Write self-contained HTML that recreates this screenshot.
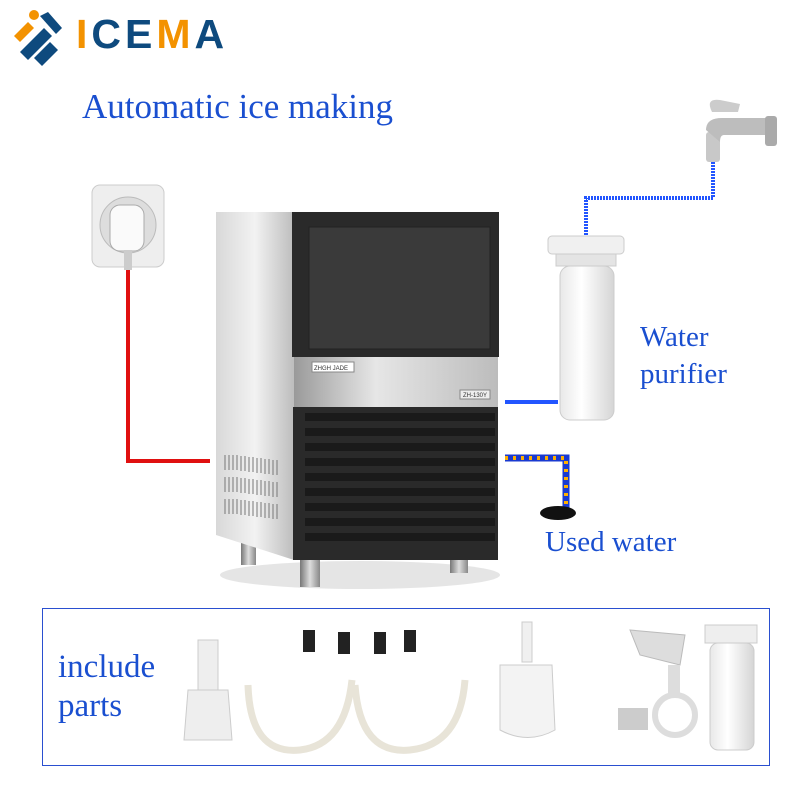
<!DOCTYPE html>
<html><head><meta charset="utf-8"><style>
body{margin:0;width:800px;height:800px;background:#fff;overflow:hidden}
svg{display:block}
text{font-family:"Liberation Serif",serif}
</style></head><body>
<svg width="800" height="800" viewBox="0 0 800 800">
<defs>
<linearGradient id="side" x1="0" x2="1"><stop offset="0" stop-color="#d8d8d8"/><stop offset=".5" stop-color="#f2f2f2"/><stop offset="1" stop-color="#bdbdbd"/></linearGradient>
<linearGradient id="band" x1="0" x2="1"><stop offset="0" stop-color="#9a9a9a"/><stop offset=".4" stop-color="#e6e6e6"/><stop offset="1" stop-color="#bcbcbc"/></linearGradient>
<linearGradient id="leg" x1="0" x2="1"><stop offset="0" stop-color="#777"/><stop offset=".5" stop-color="#ddd"/><stop offset="1" stop-color="#888"/></linearGradient>
<linearGradient id="wf" x1="0" x2="1"><stop offset="0" stop-color="#e8e8e8"/><stop offset=".4" stop-color="#fff"/><stop offset="1" stop-color="#d5d5d5"/></linearGradient>
</defs>
<!-- logo -->
<g>
<circle cx="34" cy="15" r="5" fill="#f39200"/>
<polygon points="14,36 28,22 34,28 20,42" fill="#f39200"/>
<polygon points="20,52 44,28 52,36 28,60" fill="#0e4a7e"/>
<polygon points="34,58 50,42 58,50 42,66" fill="#0e4a7e"/>
<polygon points="40,16 48,12 62,28 56,34" fill="#0e4a7e"/>
<text x="76" y="48" font-weight="bold" font-size="41" letter-spacing="4" style="font-family:'Liberation Sans',sans-serif"><tspan fill="#f39200">I</tspan><tspan fill="#0e4a7e">CE</tspan><tspan fill="#f39200">M</tspan><tspan fill="#0e4a7e">A</tspan></text>
</g>
<text x="82" y="118" font-size="35" fill="#1a4fd0">Automatic ice making</text>
<!-- plug -->
<rect x="92" y="185" width="72" height="82" rx="8" fill="#eee" stroke="#ccc"/>
<circle cx="128" cy="225" r="28" fill="#ddd" stroke="#bbb"/>
<rect x="110" y="205" width="34" height="46" rx="10" fill="#fafafa" stroke="#aaa"/>
<rect x="124" y="250" width="8" height="20" fill="#ccc"/>
<!-- red wire -->
<polyline points="128,270 128,461 210,461" fill="none" stroke="#e01010" stroke-width="4"/>
<!-- faucet -->
<rect x="706" y="132" width="14" height="30" rx="3" fill="#c8c8c8"/>
<path d="M706,130 Q706,118 722,118 L770,118 L770,135 L724,135 Q720,135 720,142 Z" fill="#bdbdbd"/>
<rect x="765" y="116" width="12" height="30" rx="3" fill="#aaa"/>
<path d="M712,112 Q705,98 720,100 L740,104 L738,112 Z" fill="#ccc"/>
<!-- blue pipes -->
<polyline points="713,162 713,198 586,198 586,235" fill="none" stroke="#2255ff" stroke-width="4" stroke-dasharray="2,1"/>
<polyline points="558,402 505,402" fill="none" stroke="#2255ff" stroke-width="4"/>
<!-- filter -->
<rect x="548" y="236" width="76" height="18" rx="4" fill="#f0f0f0" stroke="#ccc"/>
<rect x="556" y="254" width="60" height="12" fill="#e4e4e4" stroke="#ccc"/>
<rect x="560" y="266" width="54" height="154" rx="10" fill="url(#wf)" stroke="#ccc"/>
<text x="640" y="346" font-size="29" fill="#1a4fd0">Water</text>
<text x="640" y="383" font-size="29" fill="#1a4fd0">purifier</text>
<!-- used water -->
<polyline points="505,458 566,458 566,508" fill="none" stroke="#1a3ad0" stroke-width="7"/>
<polyline points="505,458 566,458 566,508" fill="none" stroke="#ffb000" stroke-width="4" stroke-dasharray="3,5"/>
<ellipse cx="558" cy="513" rx="18" ry="7" fill="#111"/>
<text x="545" y="551" font-size="29" fill="#1a4fd0">Used water</text>
<!-- machine -->
<ellipse cx="360" cy="575" rx="140" ry="14" fill="#ccc" opacity=".5"/>
<rect x="241" y="535" width="15" height="30" fill="url(#leg)"/>
<rect x="300" y="555" width="20" height="32" fill="url(#leg)"/>
<rect x="450" y="548" width="18" height="25" fill="url(#leg)"/>
<polygon points="216,212 294,212 294,560 216,535" fill="url(#side)"/>
<g stroke="#777" stroke-width="1">
<path d="M225,455 l0,15 M229,455 l0,15 M233,455 l0,15 M237,455 l0,15 M241,456 l0,15 M245,456 l0,15 M249,457 l0,15 M253,457 l0,15 M257,458 l0,15 M261,458 l0,15 M265,459 l0,15 M269,459 l0,15 M273,460 l0,15 M277,460 l0,15"/>
<path d="M225,477 l0,15 M229,477 l0,15 M233,477 l0,15 M237,477 l0,15 M241,478 l0,15 M245,478 l0,15 M249,479 l0,15 M253,479 l0,15 M257,480 l0,15 M261,480 l0,15 M265,481 l0,15 M269,481 l0,15 M273,482 l0,15 M277,482 l0,15"/>
<path d="M225,499 l0,15 M229,499 l0,15 M233,499 l0,15 M237,499 l0,15 M241,500 l0,15 M245,500 l0,15 M249,501 l0,15 M253,501 l0,15 M257,502 l0,15 M261,502 l0,15 M265,503 l0,15 M269,503 l0,15 M273,504 l0,15 M277,504 l0,15"/>
</g>
<rect x="292" y="212" width="207" height="145" fill="#2a2a2a"/>
<rect x="309" y="227" width="181" height="122" fill="#3a3a3a" stroke="#222"/>
<rect x="294" y="357" width="204" height="50" fill="url(#band)"/>
<rect x="312" y="362" width="42" height="10" fill="#fff" stroke="#888"/>
<text x="314" y="370" font-size="6" fill="#333" style="font-family:'Liberation Sans',sans-serif">ZHGH JADE</text>
<rect x="460" y="390" width="30" height="9" fill="#eee" stroke="#888"/>
<text x="463" y="397" font-size="6" fill="#333" style="font-family:'Liberation Sans',sans-serif">ZH-130Y</text>
<rect x="293" y="407" width="205" height="153" fill="#2a2a2a"/>
<g fill="#1a1a1a">
<rect x="305" y="413" width="190" height="8"/><rect x="305" y="428" width="190" height="8"/>
<rect x="305" y="443" width="190" height="8"/><rect x="305" y="458" width="190" height="8"/>
<rect x="305" y="473" width="190" height="8"/><rect x="305" y="488" width="190" height="8"/>
<rect x="305" y="503" width="190" height="8"/><rect x="305" y="518" width="190" height="8"/>
<rect x="305" y="533" width="190" height="8"/>
</g>
<!-- parts box -->
<rect x="42.5" y="608.5" width="727" height="157" fill="none" stroke="#2a4fd0" stroke-width="1"/>
<text x="58" y="677" font-size="33" fill="#1a4fd0">include</text>
<text x="58" y="716" font-size="33" fill="#1a4fd0">parts</text>
<rect x="198" y="640" width="20" height="50" fill="#eee" stroke="#ccc"/>
<path d="M188,690 L228,690 L232,740 L184,740 Z" fill="#eee" stroke="#ccc"/>
<g fill="#222"><rect x="303" y="630" width="12" height="22"/><rect x="338" y="632" width="12" height="22"/><rect x="374" y="632" width="12" height="22"/><rect x="404" y="630" width="12" height="22"/></g>
<path d="M248,685 Q250,755 300,750 Q345,745 352,680" fill="none" stroke="#e8e4d8" stroke-width="7"/>
<path d="M355,685 Q360,755 410,750 Q460,745 465,680" fill="none" stroke="#e8e4d8" stroke-width="7"/>
<rect x="522" y="622" width="10" height="40" fill="#f0f0f0" stroke="#ccc"/>
<path d="M500,665 L552,665 L555,730 Q528,745 500,730 Z" fill="#f3f3f3" stroke="#ccc"/>
<path d="M630,630 L685,635 L680,665 L640,655 Z" fill="#ddd" stroke="#bbb"/>
<circle cx="675" cy="715" r="20" fill="none" stroke="#ddd" stroke-width="6"/>
<rect x="668" y="665" width="12" height="32" fill="#ddd"/>
<rect x="618" y="708" width="30" height="22" fill="#ccc"/>
<rect x="705" y="625" width="52" height="18" fill="#eee" stroke="#ccc"/>
<rect x="710" y="643" width="44" height="107" rx="8" fill="url(#wf)" stroke="#ccc"/>
</svg>
</body></html>
